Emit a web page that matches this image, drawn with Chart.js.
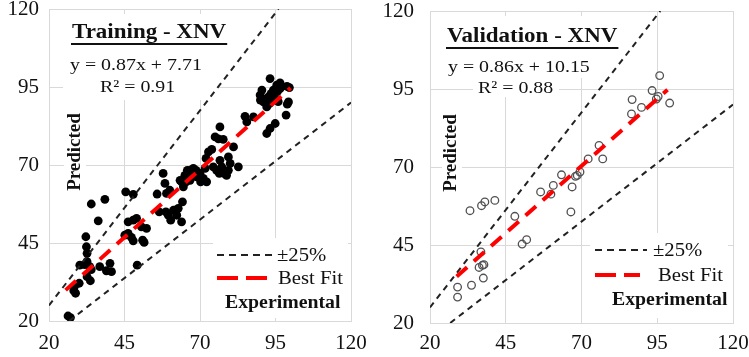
<!DOCTYPE html>
<html>
<head>
<meta charset="utf-8">
<script src="https://cdn.jsdelivr.net/npm/chart.js@4.4.1/dist/chart.umd.min.js"></script>
<style>
  html, body { margin: 0; padding: 0; background: #fff; }
  .wrap { display: flex; width: 749px; height: 357px; }
</style>
</head>
<body>
<div class="wrap">
  <canvas id="trainChart" width="375" height="357"></canvas>
  <canvas id="validChart" width="374" height="357"></canvas>
</div>
<script>
// axis ticks (same on both axes, both panels)
const tickValues = [20, 45, 70, 95, 120];

// training set: experimental (x) vs predicted (y)
const trainX = [26.3, 27.1, 28.5, 28.2, 28.8, 30.0, 30.2, 31.8, 32.6, 32.2, 32.4, 32.6, 33.5, 34.0, 32.6, 33.7, 34.0, 36.3, 38.5, 36.8, 39.0, 40.7, 40.2,
  45.4, 47.9, 45.1, 46.2, 47.3, 47.9, 46.2, 47.9, 49.0, 49.2, 51.0, 51.5, 50.6, 52.3,
  55.8, 56.5, 57.8, 58.4, 58.9, 60.0, 58.7, 59.5, 60.3, 61.2, 62.3, 62.8, 63.9, 64.2, 64.5, 63.4, 65.0, 65.8, 66.7, 67.2, 67.8, 68.7, 68.9, 70.0, 71.1, 72.2, 71.7, 70.2, 66.7, 65.4, 63.9,
  72.0, 72.8, 73.9, 74.4, 75.5, 76.4, 76.6, 77.2, 77.9, 78.8, 79.4, 80.0, 79.4, 81.1, 75.0, 76.6, 76.1, 77.7, 82.7, 84.9, 87.7, 85.5,
  90.5, 90.0, 91.0, 92.1, 92.7, 93.2, 93.5, 94.3, 92.1, 93.0, 95.4, 96.5, 97.1, 98.8, 99.6, 99.3, 98.9, 98.5, 94.9, 93.2, 92.1, 89.9, 96.5, 95.6, 94.8, 95.9];
const trainY = [21.6, 21.1, 31.2, 29.7, 28.9, 32.1, 37.9, 38.1, 39.0, 47.0, 43.8, 41.7, 37.4, 36.5, 34.2, 32.9, 57.5, 52.1, 59.0, 37.4, 36.1, 35.8, 38.5,
  61.4, 60.6, 47.5, 48.1, 46.8, 45.7, 51.8, 52.3, 52.9, 37.9, 45.9, 45.2, 50.2, 49.7,
  60.7, 55.0, 67.3, 64.1, 60.9, 61.9, 55.0, 53.9, 52.3, 55.5, 53.9, 56.1, 51.8, 58.2, 63.0, 65.1, 66.7, 68.3, 65.1, 67.3, 68.9, 68.3, 66.2, 67.3, 65.7, 64.6, 68.9, 64.6, 68.3, 64.6, 64.6,
  72.1, 74.2, 75.0, 69.4, 68.3, 67.3, 71.5, 69.4, 67.3, 66.7, 68.3, 70.5, 72.6, 75.8, 79.0, 82.2, 78.4, 78.2, 69.4, 85.6, 85.4, 83.8,
  94.0, 90.8, 90.2, 91.3, 91.8, 97.7, 92.9, 94.0, 88.6, 89.7, 95.6, 96.3, 95.2, 95.2, 94.8, 90.2, 89.5, 86.0, 83.3, 81.7, 80.1, 92.4, 94.5, 93.5, 91.4, 90.3];

// validation set
const validX = [29.1, 29.1, 33.7, 33.2, 37.0, 38.1, 41.4, 36.8, 37.3, 36.2, 37.8, 37.6, 48.0, 50.4, 51.9, 56.5, 59.9, 60.7, 63.4, 66.5, 66.9, 68.0, 68.6, 69.5, 72.2, 75.8, 77.0, 86.5, 86.7, 89.8, 93.3, 94.7, 95.3, 95.8, 99.1];
const validY = [28.3, 31.5, 32.1, 56.0, 57.6, 58.8, 59.3, 42.8, 38.5, 37.8, 38.7, 34.4, 54.2, 45.3, 46.7, 62.0, 61.3, 64.1, 67.5, 55.6, 63.6, 67.0, 67.3, 68.4, 72.6, 76.9, 72.6, 87.0, 91.6, 89.1, 94.5, 91.8, 92.6, 99.3, 90.5];

// fits: slope, intercept, R2 and x-range of the drawn line
const trainFit = [0.87, 7.71];
const validFit = [0.86, 10.15];
const r2Values = [0.91, 0.88];
const trainFitRange = [25.5, 100];
const validFitRange = [28.8, 98.4];
const bandFactors = [1.25, 0.75];

const panelNames = ['Training - XNV', 'Validation - XNV'];
const legendLabels = ['\u00b125%', 'Best Fit'];
const axisTitles = ['Experimental', 'Predicted'];

const serif = '"Liberation Serif", "Times New Roman", serif';

function toPoints(xs, ys) {
  return xs.map((x, i) => ({ x: x, y: ys[i] }));
}

function fitLine(fit, range) {
  return range.map(x => ({ x: x, y: fit[0] * x + fit[1] }));
}

function bandLine(f) {
  const lo = tickValues[0], hi = tickValues[tickValues.length - 1];
  const a = Math.max(lo, lo / f), b = Math.min(hi, hi / f);
  return [{ x: a, y: f * a }, { x: b, y: f * b }];
}

function fitText(fit) {
  return 'y = ' + fit[0].toFixed(2) + 'x + ' + fit[1].toFixed(2);
}

// draws horizontally stretched text, returns drawn width
function wideText(ctx, text, x, y, font, sx) {
  ctx.save();
  ctx.font = font;
  ctx.textAlign = 'left';
  ctx.textBaseline = 'alphabetic';
  ctx.translate(x, y);
  ctx.scale(sx, 1);
  ctx.fillStyle = '#111';
  ctx.fillText(text, 0, 0);
  const w = ctx.measureText(text).width * sx;
  ctx.restore();
  return w;
}

const notesPlugin = {
  id: 'notes',
  beforeDatasetsDraw(chart, args, o) {
    const ctx = chart.ctx;
    ctx.save();
    ctx.fillStyle = '#fff';
    o.boxes.forEach(b => ctx.fillRect(b[0], b[1], b[2], b[3]));
    ctx.restore();
  },
  afterDatasetsDraw(chart, args, o) {
    const ctx = chart.ctx;
    // title + underline
    const tw = wideText(ctx, o.title, o.tx, o.ty, 'bold 20px ' + serif, 1.15);
    ctx.save();
    ctx.strokeStyle = '#111';
    ctx.lineWidth = 2;
    ctx.beginPath();
    ctx.moveTo(o.tx - 1, o.ul);
    ctx.lineTo(o.tx + tw + 1, o.ul);
    ctx.stroke();
    ctx.restore();
    wideText(ctx, o.eq, o.ex, o.ey, '17px ' + serif, 1.17);
    wideText(ctx, o.r2, o.rx, o.ry, '17px ' + serif, 1.17);
    wideText(ctx, axisTitles[0], o.xlx, o.xly, 'bold 18px ' + serif, 1.1);
    // vertical y title
    ctx.save();
    ctx.translate(o.ylx, o.yly);
    ctx.rotate(-Math.PI / 2);
    ctx.font = 'bold 19px ' + serif;
    ctx.textAlign = 'center';
    ctx.textBaseline = 'middle';
    ctx.fillStyle = '#111';
    ctx.fillText(axisTitles[1], 0, 0);
    ctx.restore();
    // legend
    ctx.save();
    ctx.beginPath();
    ctx.setLineDash([7, 5]);
    ctx.lineWidth = 2;
    ctx.strokeStyle = '#222';
    ctx.moveTo(o.lx0, o.ly0);
    ctx.lineTo(o.lx1, o.ly0);
    ctx.stroke();
    ctx.beginPath();
    ctx.setLineDash([21, 8]);
    ctx.lineWidth = 4;
    ctx.strokeStyle = '#ff0000';
    ctx.moveTo(o.lx0, o.ly1);
    ctx.lineTo(o.lx2, o.ly1);
    ctx.stroke();
    ctx.restore();
    wideText(ctx, legendLabels[0], o.lt0, o.ly0 + 6, '18px ' + serif, 1.15);
    wideText(ctx, legendLabels[1], o.lt1, o.ly1 + 6, '18px ' + serif, 1.15);
  }
};

function makeChart(id, pts, pointStyle, fit, range, cfg) {
  const axisBase = {
    type: 'linear',
    min: tickValues[0],
    max: tickValues[tickValues.length - 1],
    afterBuildTicks: s => { s.ticks = tickValues.map(v => ({ value: v })); },
    grid: { color: '#d9d9d9', lineWidth: 1, drawTicks: false },
    border: { color: '#d9d9d9' }
  };
  return new Chart(document.getElementById(id), {
    type: 'scatter',
    data: {
      datasets: [
        Object.assign({ data: pts, order: 2 }, pointStyle),
        { type: 'line', data: bandLine(bandFactors[0]), borderColor: '#222', borderWidth: 2, borderDash: [6, 5], pointRadius: 0, fill: false, order: 1 },
        { type: 'line', data: bandLine(bandFactors[1]), borderColor: '#222', borderWidth: 2, borderDash: [6, 5], pointRadius: 0, fill: false, order: 1 },
        { type: 'line', data: fitLine(fit, range), borderColor: '#ff0000', borderWidth: 4, borderDash: [14, 9], pointRadius: 0, fill: false, order: 0 }
      ]
    },
    options: {
      responsive: false,
      animation: false,
      events: [],
      layout: { padding: { left: 0, top: cfg.top, right: cfg.right, bottom: 0 } },
      plugins: { legend: { display: false }, tooltip: { enabled: false }, notes: cfg.notes },
      scales: {
        x: Object.assign({}, axisBase, {
          afterFit: s => { s.height = cfg.xh; s.paddingLeft = 0; s.paddingRight = 0; },
          ticks: { autoSkip: false, maxRotation: 0, padding: cfg.xpad, color: '#111', font: { family: serif, size: 21 } }
        }),
        y: Object.assign({}, axisBase, {
          afterFit: s => { s.width = cfg.yw; s.paddingTop = 0; s.paddingBottom = 0; },
          ticks: { autoSkip: false, padding: cfg.ypad, color: '#111', font: { family: serif, size: 21 } }
        })
      }
    },
    plugins: [notesPlugin]
  });
}

makeChart('trainChart', toPoints(trainX, trainY),
  { pointRadius: 4.4, backgroundColor: '#000', borderColor: '#000', borderWidth: 0 },
  trainFit, trainFitRange,
  { top: 9, right: 24, xh: 36, yw: 49, xpad: 10, ypad: 10,
    notes: {
      boxes: [[63, 14, 155, 86], [64, 110, 22, 86], [213, 238, 135, 80]],
      title: panelNames[0], tx: 72, ty: 38, ul: 44,
      eq: fitText(trainFit), ex: 70, ey: 70,
      r2: 'R\u00b2 = ' + r2Values[0].toFixed(2), rx: 100, ry: 92,
      xlx: 225, xly: 308, ylx: 75, yly: 152,
      lx0: 217, lx1: 272, lx2: 270, ly0: 255, ly1: 278, lt0: 277, lt1: 278
    } });

makeChart('validChart', toPoints(validX, validY),
  { pointRadius: 3.8, backgroundColor: 'rgba(0,0,0,0)', borderColor: '#505050', borderWidth: 1.3 },
  validFit, validFitRange,
  { top: 11, right: 16, xh: 34, yw: 55, xpad: 8, ypad: 16,
    notes: {
      boxes: [[62, 16, 192, 62], [98, 77, 86, 20], [67, 110, 20, 88], [215, 233, 138, 85]],
      title: panelNames[1], tx: 72, ty: 42, ul: 48,
      eq: fitText(validFit), ex: 73, ey: 72,
      r2: 'R\u00b2 = ' + r2Values[1].toFixed(2), rx: 103, ry: 93,
      xlx: 237, xly: 305, ylx: 76, yly: 153,
      lx0: 220, lx1: 272, lx2: 265, ly0: 250, ly1: 275, lt0: 278, lt1: 283
    } });
</script>
</body>
</html>
